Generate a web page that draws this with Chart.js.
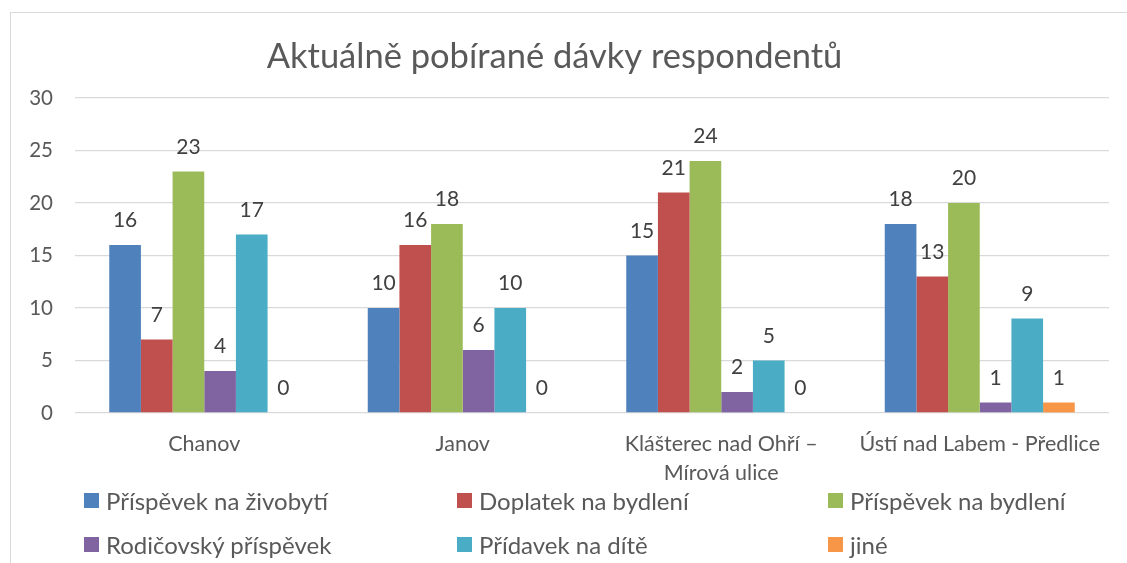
<!DOCTYPE html>
<html>
<head>
<meta charset="utf-8">
<script src="https://cdn.jsdelivr.net/npm/chart.js@4/dist/chart.umd.min.js"></script>
<style>
  body { margin: 0; background: #fff; }
  #wrap { position: relative; width: 1127px; height: 563px; overflow: hidden; }
  #frame { position: absolute; left: 10px; top: 12px; width: 1130px; height: 560px; border: 1px solid #d9d9d9; box-sizing: border-box; }
  #chart { position: absolute; left: 0; top: 0; }
  #legend { position: absolute; left: 0; top: 0; font-family: Lato, sans-serif; font-size: 24px; color: #595959; }
  .item { position: absolute; display: flex; align-items: center; white-space: nowrap; }
  .box { width: 15px; height: 15px; margin-right: 7px; }
</style>
</head>
<body>
<div id="wrap">
  <div id="frame"></div>
  <canvas id="chart" width="1127" height="563"></canvas>
  <div id="legend"></div>
</div>
<script>
const categories = ['Chanov', 'Janov', ['Klášterec nad Ohří –', 'Mírová ulice'], 'Ústí nad Labem - Předlice'];
const seriesNames = ['Příspěvek na živobytí', 'Doplatek na bydlení', 'Příspěvek na bydlení', 'Rodičovský příspěvek', 'Přídavek na dítě', 'jiné'];
const prispevekZivobyti = [16, 10, 15, 18];
const doplatekBydleni = [7, 16, 21, 13];
const prispevekBydleni = [23, 18, 24, 20];
const rodicovsky = [4, 6, 2, 1];
const pridavekDite = [17, 10, 5, 9];
const jine = [0, 0, 0, 1];
const yTicks = [0, 5, 10, 15, 20, 25, 30];
const colors = ['#4F81BD', '#C0504D', '#9BBB59', '#8064A2', '#4BACC6', '#F79646'];

const values = [prispevekZivobyti, doplatekBydleni, prispevekBydleni, rodicovsky, pridavekDite, jine];

// popisky hodnot nad sloupci
const valueLabels = {
  id: 'valueLabels',
  afterDatasetsDraw(chart) {
    const ctx = chart.ctx;
    ctx.save();
    ctx.font = '21px Lato, sans-serif';
    ctx.fillStyle = '#404040';
    ctx.textAlign = 'center';
    ctx.textBaseline = 'alphabetic';
    chart.data.datasets.forEach((ds, i) => {
      chart.getDatasetMeta(i).data.forEach((bar, j) => {
        ctx.fillText(ds.data[j], bar.x, bar.y - 18);
      });
    });
    ctx.restore();
  }
};

const chart = new Chart(document.getElementById('chart'), {
  type: 'bar',
  data: {
    labels: categories,
    datasets: seriesNames.map((name, i) => ({
      label: name,
      data: values[i],
      backgroundColor: colors[i],
      barPercentage: 1,
      categoryPercentage: 0.735
    }))
  },
  options: {
    responsive: false,
    animation: false,
    layout: { padding: { left: 0, right: 18, top: 0, bottom: 70 } },
    plugins: {
      legend: { display: false },
      tooltip: { enabled: false },
      title: {
        display: true,
        text: 'Aktuálně pobírané dávky respondentů',
        color: '#595959',
        font: { family: 'Lato, sans-serif', size: 34.5, weight: 'normal', lineHeight: 1.2 },
        padding: { top: 36, bottom: 20.6 }
      }
    },
    scales: {
      y: {
        min: 0, max: 30,
        afterBuildTicks(scale) { scale.ticks = yTicks.map(v => ({ value: v })); },
        afterFit(scale) { scale.width = 75; },
        grid: { color: '#d9d9d9', lineWidth: 1.3, drawTicks: false },
        border: { display: false },
        ticks: { color: '#595959', padding: 22, font: { family: 'Lato, sans-serif', size: 20.5 } }
      },
      x: {
        afterFit(scale) { scale.height = 80; },
        grid: { display: false },
        border: { display: false },
        ticks: { color: '#595959', padding: 9, maxRotation: 0, autoSkip: false,
                 font: { family: 'Lato, sans-serif', size: 21.5, lineHeight: 1.35 } }
      }
    }
  },
  plugins: [valueLabels]
});

// legenda ve třech sloupcích
const legend = document.getElementById('legend');
const colX = [84, 457, 828];
const rowY = [500, 544];
seriesNames.forEach((name, i) => {
  const it = document.createElement('div');
  it.className = 'item';
  it.style.left = colX[i % 3] + 'px';
  it.style.top = (rowY[Math.floor(i / 3)] - 15) + 'px';
  it.style.height = '30px';
  it.innerHTML = '<span class="box" style="background:' + colors[i] + '"></span><span>' + name + '</span>';
  legend.appendChild(it);
});
</script>
</body>
</html>
